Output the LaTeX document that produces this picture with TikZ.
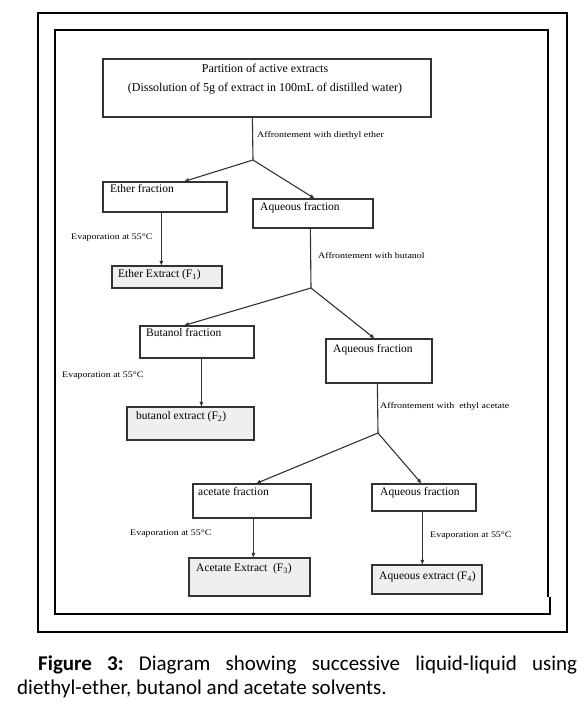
\documentclass[tikz,border=0pt]{standalone}
\usepackage{fontspec}
\setmainfont{Liberation Serif}
\newfontfamily\capfont{Carlito}
\usetikzlibrary{arrows.meta,calc}
\definecolor{boxline}{HTML}{333333}
\definecolor{extfill}{HTML}{EFEFEF}
\tikzset{
  x=1pt,y=-1pt,
  box/.style={draw=boxline,line width=1.3pt,inner sep=0pt,fill=white},
  extbox/.style={box,fill=extfill},
  conn/.style={draw=boxline,line width=1.1pt},
  arr/.style={conn,-{Triangle[length=4.5pt,width=3.5pt]}},
  btext/.style={anchor=mid west,inner sep=0pt,font=\fontsize{11.5}{13}\selectfont},
  ttext/.style={anchor=mid,inner sep=0pt,font=\fontsize{12}{14}\selectfont},
  stext/.style={anchor=mid west,inner sep=0pt,xscale=1.17,font=\fontsize{8.5}{9}\selectfont},
  frame/.style={draw=black,line width=1.3pt}
}
\newcommand{\boxat}[6]{\node[#1,minimum width=#4-#2,minimum height=#5-#3] (#6) at ({(#2+#4)/2},{(#3+#5)/2}) {};}
\begin{document}
\begin{tikzpicture}
\useasboundingbox (0,0) rectangle (587,714);
\fill[white] (0,0) rectangle (587,714);
% frames
\draw[frame] (38,13) rectangle (567,632);
\draw[frame] (548,597) -- (548,30) -- (55,30) -- (55,614) -- (550,614) -- (550,597);
% boxes
\boxat{box}{103}{59}{431}{117}{top}
\boxat{box}{103}{182}{227}{212}{ef}
\boxat{box}{253}{199}{373}{228}{aqa}
\boxat{extbox}{112}{266}{222}{288}{ee}
\boxat{box}{140}{326}{254}{358}{bf}
\boxat{box}{326}{339}{432}{383}{aqb}
\boxat{extbox}{127}{407}{254}{440}{be}
\boxat{box}{193}{484}{311}{518}{af}
\boxat{box}{372}{484}{476}{511}{aqc}
\boxat{extbox}{189}{558}{310}{596}{ae}
\boxat{extbox}{372}{565}{482}{594}{ax}
% junctions
\coordinate (j1) at (253,160);
\coordinate (j2) at (311,288);
\coordinate (j3) at (378,433);
% connectors
\draw[conn] ([xshift=150pt]top.south west) -- (j1);
\draw[arr] (j1) -- ([xshift=82pt]ef.north west);
\draw[arr] (j1) -- ([xshift=62pt]aqa.north west);
\draw[arr] ([xshift=59pt]ef.south west) -- ([xshift=50pt]ee.north west);
\draw[conn] ([xshift=58pt]aqa.south west) -- (j2);
\draw[arr] (j2) -- ([xshift=45pt]bf.north west);
\draw[arr] (j2) -- ([xshift=49pt]aqb.north west);
\draw[arr] ([xshift=62pt]bf.south west) -- ([xshift=75pt]be.north west);
\draw[conn] ([xshift=52pt]aqb.south west) -- (j3);
\draw[arr] (j3) -- ([xshift=64pt]af.north west);
\draw[arr] (j3) -- ([xshift=50pt]aqc.north west);
\draw[arr] ([xshift=61pt]af.south west) -- ([xshift=65pt]ae.north west);
\draw[arr] ([xshift=51pt]aqc.south west) -- ([xshift=51pt]ax.north west);
% texts
\node[ttext] (t1) at (265,70) {Partition of active extracts};
\node[ttext] (t2) at (265,89) {(Dissolution of 5g of extract in 100mL of distilled water)};
\node[stext] (l1) at (257,135) {Affrontement with diethyl ether};
\node[btext] (tef) at (110,190) {Ether fraction};
\node[btext] (taqa) at (260,208) {Aqueous fraction};
\node[stext] (l2) at (71,237) {Evaporation at 55°C};
\node[btext] (tee) at (118,275) {Ether Extract (F\textsubscript{1})};
\node[stext] (l3) at (318,256) {Affrontement with butanol};
\node[btext] (tbf) at (146,334) {Butanol fraction};
\node[btext] (taqb) at (333,350) {Aqueous fraction};
\node[stext] (l4) at (62,375) {Evaporation at 55°C};
\node[btext] (tbe) at (136,417) {butanol extract (F\textsubscript{2})};
\node[stext] (l5) at (380,406) {Affrontement with\ \ ethyl acetate};
\node[btext] (taf) at (198,493) {acetate fraction};
\node[btext] (taqc) at (380,493) {Aqueous fraction};
\node[stext] (l6) at (130,533) {Evaporation at 55°C};
\node[stext] (l7) at (430,535) {Evaporation at 55°C};
\node[btext] (tae) at (196,569) {Acetate Extract\ \ (F\textsubscript{3})};
\node[btext] (tax) at (379,577) {Aqueous extract (F\textsubscript{4})};
% caption
\node[anchor=base west,inner sep=0pt,font=\capfont\fontsize{21}{24}\selectfont\frenchspacing] (c1) at (38,670)
  {\makebox[539pt][s]{\textbf{Figure 3:} Diagram showing successive liquid-liquid using}};
\node[anchor=base west,inner sep=0pt,font=\capfont\fontsize{21}{24}\selectfont] (c2) at (17,694)
  {diethyl-ether, butanol and acetate solvents.};
\end{tikzpicture}
\end{document}
